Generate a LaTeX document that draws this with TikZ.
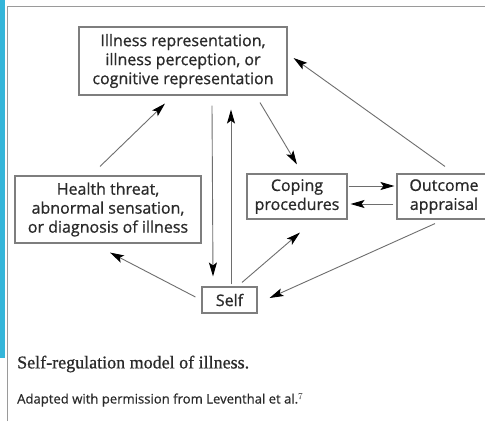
\documentclass[tikz,border=0pt]{standalone}
\usepackage{fontspec}
\setmainfont{Open Sans}[FakeBold=0.6]
\newfontfamily\boxfont{Open Sans}[FakeBold=0.8]
\newfontfamily\captionserif{Liberation Serif}[FakeBold=0.8]
\usetikzlibrary{arrows.meta,calc}
\definecolor{framecyan}{HTML}{35B6DA}
\definecolor{framegray}{HTML}{9A9A9A}
\definecolor{linegray}{HTML}{6E6E6E}
\definecolor{boxgray}{HTML}{7E7E7E}
\definecolor{textgray}{HTML}{2A2A2A}
\begin{document}
\begin{tikzpicture}[x=1pt,y=-1pt,
  box/.style={draw=boxgray,line width=1.1pt,align=center,inner sep=0pt,
    font=\boxfont\fontsize{16}{19}\selectfont,text=textgray},
  arr/.style={draw=linegray,line width=0.9pt,
    -{Stealth[length=14pt,width=8pt,inset=3pt,color=black]}}]
  \useasboundingbox (0,0) rectangle (485,421);
  \fill[white] (0,0) rectangle (485,421);
  % page frame
  \fill[framecyan] (0,0) rectangle (5,358);
  \draw[framegray,line width=1pt] (7.5,421) -- (7.5,6.5) -- (485,6.5);
  % boxes
  \node[box,minimum width=208pt,minimum height=68pt] (rep) at (183,61)
    {Illness representation,\\illness perception, or\\cognitive representation};
  \node[box,minimum width=186pt,minimum height=67pt] (threat) at (108,209.5)
    {Health threat,\\abnormal sensation,\\or diagnosis of illness};
  \node[box,minimum width=100pt,minimum height=45pt] (coping) at (297,196.5)
    {Coping\\procedures};
  \node[box,minimum width=94pt,minimum height=45pt] (outcome) at (444,196.5)
    {Outcome\\appraisal};
  \node[box,minimum width=55pt,minimum height=26pt] (self) at (229.5,300)
    {Self};
  % connectors
  \draw[arr] ($(threat.north)+(-8,-9)$) -- ($(rep.south)+(-18,8)$);
  \draw[arr] ($(rep.south)+(29,10)$) -- ($(self.north)+(-16.5,-10)$);
  \draw[arr] ($(self.north)+(1.5,-2)$) -- ($(rep.south)+(48,14)$);
  \draw[arr] ($(rep.south)+(77,7)$) -- ($(coping.north)+(0,-9)$);
  \draw[arr] ($(outcome.north)+(1,-7)$) -- ($(rep.east)+(6,-3)$);
  \draw[arr] ($(coping.east)+(1,-10.5)$) -- ($(outcome.west)+(-2,-10.5)$);
  \draw[arr] ($(outcome.west)+(-3,7.5)$) -- ($(coping.east)+(3,7.5)$);
  \draw[arr] ($(self.north)+(12.5,-4)$) -- ($(coping.south)+(3,13)$);
  \draw[arr] ($(self.west)+(-6,-3)$) -- ($(threat.south)+(2,9)$);
  \draw[arr] ($(outcome.south)+(-9,4)$) -- ($(self.east)+(12,-2)$);
  % caption
  \node[anchor=west,inner sep=0pt,text=textgray,
    font=\captionserif\fontsize{18}{21}\selectfont] (cap) at (17,364)
    {Self-regulation model of illness.};
  \node[anchor=west,inner sep=0pt,text=textgray,
    font=\fontsize{13.1}{15}\selectfont] (src) at (17,400)
    {Adapted with permission from Leventhal et al.$^{7}$};
\end{tikzpicture}
\end{document}
